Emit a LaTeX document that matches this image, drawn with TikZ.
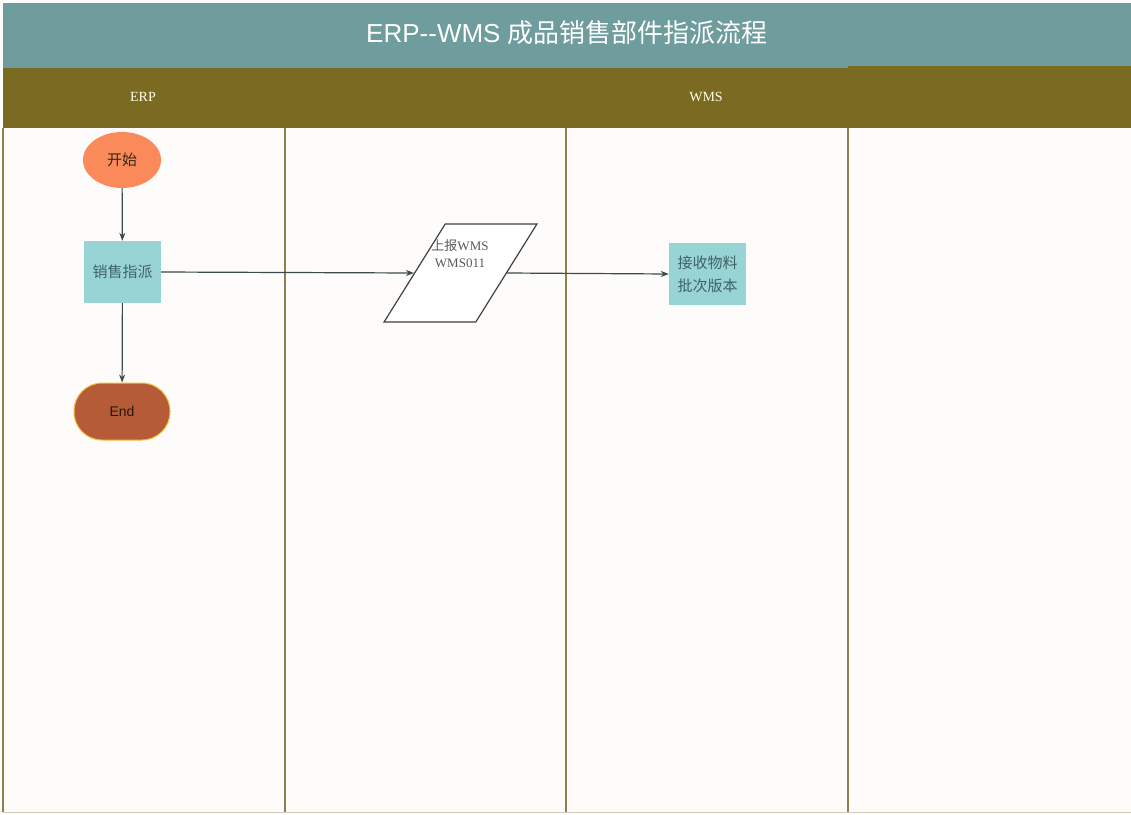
\documentclass[tikz,border=0pt]{standalone}
\usepackage{fontspec}
\setmainfont{Liberation Serif}
\setsansfont{Liberation Sans}
\newfontfamily\cjk{Noto Sans CJK SC}
\usepackage{tikz}
\usetikzlibrary{arrows.meta,positioning,shapes.geometric}
\definecolor{titleTeal}{HTML}{6F9C9D}
\definecolor{headOlive}{HTML}{7B6A22}
\definecolor{laneBg}{HTML}{FDFCFA}
\definecolor{laneLine}{HTML}{8E7F4C}
\definecolor{startOrange}{HTML}{FA8A5A}
\definecolor{procCyan}{HTML}{98D3D6}
\definecolor{procText}{HTML}{3E6466}
\definecolor{endBrown}{HTML}{B65B38}
\definecolor{endBorder}{HTML}{F2C23C}
\definecolor{flowArrow}{HTML}{3C4A4A}
\tikzset{
  %% Swimlane parts
  lnLine/.style={draw=laneLine, line width=1.4pt},
  lnHead/.style={text=white!90!yellow, font=\fontsize{14}{16}\selectfont},
  %% Flow shapes
  fcStart/.style={ellipse, fill=startOrange, minimum width=78pt, minimum height=56pt,
    inner sep=0pt, font=\fontsize{15}{18}\selectfont\cjk, text=black!70!brown},
  fcProc/.style={rectangle, fill=procCyan, minimum width=77pt, minimum height=62pt,
    inner sep=0pt, align=center, font=\fontsize{15}{23}\selectfont\cjk, text=procText},
  fcEnd/.style={rectangle, rounded corners=28pt, draw=endBorder, fill=endBrown, line width=1pt,
    minimum width=96pt, minimum height=57pt, font=\fontsize{14}{16}\selectfont\sffamily,
    text=black!80!brown},
  fcIO/.style={trapezium, trapezium left angle=63.4, trapezium right angle=116.6,
    trapezium stretches=true, draw=black!75, fill=white, line width=1.2pt,
    minimum width=153pt, minimum height=98pt, inner sep=2pt},
  fcIOtxt/.style={align=center, font=\fontsize{13}{17}\selectfont, text=black!65},
  %% Connectors
  fcArr/.style={-{Stealth[length=8pt,width=6pt]}, draw=flowArrow, line width=1.2pt},
}

\begin{document}
\begin{tikzpicture}[x=1pt, y=-1pt]
\useasboundingbox (0,0) rectangle (1131,814);

%% Title and lane heads
\fill[titleTeal] (3,3) rectangle (1131,68);
\fill[headOlive] (3,68) rectangle (848,128);
\fill[headOlive] (848,66) rectangle (1131,128);
\node[text=white, font=\fontsize{26}{30}\selectfont] (pTitle) at (567,33)
  {\sffamily ERP-{}-WMS {\cjk 成品销售部件指派流程}};
\node[lnHead] (hERP) at (143,97) {ERP};
\node[lnHead] (hWMS) at (706,97) {WMS};

%% Lanes
\fill[laneBg] (3,128) rectangle (1131,812);
\foreach \x in {3, 285, 566, 848}
  \draw[lnLine] (\x,128) -- (\x,812);
\draw[draw=laneLine!40, line width=1pt] (3,812) -- (1131,812);

%% Flow
\node[fcStart] (pStart)    at (122,160) {开始};
\node[fcProc]  (pDispatch) at (122.5,272) {销售指派};
\node[fcEnd]   (pEnd)      at (122,411.5) {End};
\node[fcIO]    (pReport)   at (460.5,273) {\strut};
\node[fcIOtxt] (pReportTxt) at (460,254) {{\cjk 上报}WMS\\WMS011};
\node[fcProc]  (pRecv)     at (707.5,274) {接收物料\\批次版本};

\draw[fcArr] (pStart) -- (pDispatch);
\draw[fcArr] (pDispatch) -- (pEnd);
\draw[fcArr] (pDispatch.east) -- (pReport.west);
\draw[fcArr] (pReport.east) -- (pRecv.west);

\end{tikzpicture}
\end{document}
